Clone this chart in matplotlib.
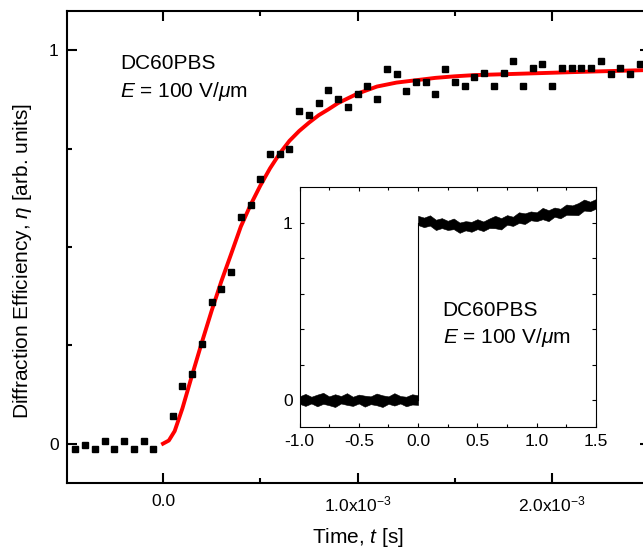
import numpy as np
import matplotlib.pyplot as plt
from matplotlib.ticker import FixedLocator, MultipleLocator

plt.rcParams['font.family'] = ['Liberation Sans', 'DejaVu Sans']
plt.rcParams['mathtext.fontset'] = 'custom'
plt.rcParams['mathtext.rm'] = 'Liberation Sans'
plt.rcParams['mathtext.it'] = 'Liberation Sans:italic'
plt.rcParams['mathtext.bf'] = 'Liberation Sans:bold'
plt.rcParams['axes.unicode_minus'] = False

# measured diffraction efficiency (time in ms)
t_ms = [-0.45, -0.40, -0.35, -0.30, -0.25, -0.20, -0.15, -0.10, -0.05,
        0.05, 0.10, 0.15, 0.20, 0.25, 0.30, 0.35, 0.40, 0.45, 0.50,
        0.55, 0.60, 0.65, 0.70, 0.75, 0.80, 0.85, 0.90, 0.95, 1.00,
        1.05, 1.10, 1.15, 1.20, 1.25, 1.30, 1.35, 1.40, 1.45, 1.50,
        1.55, 1.60, 1.65, 1.70, 1.75, 1.80, 1.85, 1.90, 1.95, 2.00,
        2.05, 2.10, 2.15, 2.20, 2.25, 2.30, 2.35, 2.40, 2.45]
eta = [-0.013, -0.003, -0.014, 0.007, -0.014, 0.007, -0.014, 0.007, -0.014,
       0.070, 0.146, 0.178, 0.254, 0.361, 0.394, 0.436, 0.576, 0.608, 0.674,
       0.737, 0.737, 0.748, 0.846, 0.835, 0.866, 0.898, 0.877, 0.856, 0.890,
       0.910, 0.877, 0.953, 0.941, 0.897, 0.919, 0.919, 0.889, 0.953, 0.920,
       0.910, 0.932, 0.942, 0.910, 0.942, 0.974, 0.910, 0.954, 0.964, 0.910,
       0.954, 0.954, 0.954, 0.954, 0.974, 0.941, 0.954, 0.941, 0.964]

# fitted curve
fit_t_ms = [0.00, 0.03, 0.06, 0.10, 0.15, 0.20, 0.25, 0.30, 0.35, 0.40,
            0.45, 0.50, 0.55, 0.60, 0.65, 0.70, 0.75, 0.80, 0.85, 0.90,
            1.00, 1.10, 1.20, 1.30, 1.40, 1.50, 1.60, 1.80, 2.00, 2.20, 2.50]
fit_eta = [0.000, 0.008, 0.032, 0.090, 0.175, 0.258, 0.338, 0.413, 0.482, 0.552,
           0.607, 0.656, 0.700, 0.738, 0.770, 0.795, 0.816, 0.835, 0.850, 0.866,
           0.890, 0.908, 0.918, 0.924, 0.930, 0.934, 0.937, 0.940, 0.943, 0.946, 0.950]

# inset trace (time in s), drawn as noise envelope
pre_t = [-1.00, -0.95, -0.90, -0.85, -0.80, -0.75, -0.70, -0.65, -0.60, -0.55, -0.50,
         -0.45, -0.40, -0.35, -0.30, -0.25, -0.20, -0.15, -0.10, -0.05, 0.00]
pre_upper = [0.020, 0.034, 0.018, 0.030, 0.040, 0.020, 0.032, 0.022, 0.038, 0.018, 0.030,
             0.024, 0.020, 0.036, 0.026, 0.020, 0.038, 0.022, 0.018, 0.032, 0.026]
pre_lower = [-0.022, -0.034, -0.020, -0.036, -0.022, -0.030, -0.040, -0.020, -0.028, -0.034, -0.020,
             -0.038, -0.024, -0.030, -0.040, -0.022, -0.032, -0.020, -0.036, -0.026, -0.028]
post_t = [0.00, 0.05, 0.10, 0.15, 0.20, 0.25, 0.30, 0.35, 0.40, 0.45, 0.50,
          0.55, 0.60, 0.65, 0.70, 0.75, 0.80, 0.85, 0.90, 0.95, 1.00,
          1.05, 1.10, 1.15, 1.20, 1.25, 1.30, 1.35, 1.40, 1.45, 1.50]
post_upper = [1.040, 1.030, 1.043, 1.018, 1.027, 1.012, 1.025, 1.002, 1.010, 1.006, 1.021,
              1.008, 1.025, 1.040, 1.027, 1.044, 1.035, 1.060, 1.054, 1.065, 1.060,
              1.085, 1.072, 1.087, 1.080, 1.104, 1.099, 1.112, 1.132, 1.120, 1.135]
post_lower = [0.988, 0.976, 0.985, 0.960, 0.971, 0.960, 0.965, 0.944, 0.958, 0.950, 0.965,
              0.954, 0.971, 0.970, 0.963, 0.990, 0.983, 1.000, 0.994, 1.015, 1.010,
              1.021, 1.010, 1.035, 1.026, 1.046, 1.045, 1.044, 1.070, 1.066, 1.081]
step_t = [0.0, 0.0]
step_y = [0.0, 1.0]

x_major = [0.0, 1.0e-3, 2.0e-3]
x_labels = ['0.0', '1.0x10$^{-3}$', '2.0x10$^{-3}$']
inset_x_ticks = [-1.0, -0.5, 0.0, 0.5, 1.0, 1.5]
inset_x_labels = ['-1.0', '-0.5', '0.0', '0.5', '1.0', '1.5']

W, H = 643, 549
fig = plt.figure(figsize=(W / 100, H / 100), dpi=100)

# main axes (extends slightly past the right edge, as in the original crop)
ax = fig.add_axes([67 / W, 66 / H, 582.5 / W, 472 / H])
ax.plot(np.array(fit_t_ms) * 1e-3, fit_eta, color='red', lw=2.8, zorder=2)
ax.plot(np.array(t_ms) * 1e-3, eta, 's', color='black', ms=4, zorder=3)
ax.set_xlim(-0.4933e-3, 2.5e-3)
ax.set_ylim(-0.1, 1.1)
ax.set_xticks(x_major)
ax.set_xticklabels(x_labels)
ax.xaxis.set_minor_locator(FixedLocator([-0.5e-3, 0.5e-3, 1.5e-3, 2.5e-3]))
ax.set_yticks([0, 1])
ax.set_yticklabels(['0', '1'])
ax.yaxis.set_minor_locator(FixedLocator([0.25, 0.5, 0.75]))
ax.tick_params(which='both', direction='in', top=True, right=True, width=1.5, labelsize=12.5)
ax.tick_params(which='major', length=7.5)
ax.tick_params(which='minor', length=3.8)
ax.tick_params(axis='x', pad=8)
ax.tick_params(axis='y', pad=6)
for s in ax.spines.values():
    s.set_linewidth(1.5)
ax.set_xlabel('Time, $t$ [s]', fontsize=15)
ax.set_ylabel('Diffraction Efficiency, $\\eta$ [arb. units]', fontsize=15)
ax.xaxis.set_label_coords(0.5, -0.091)
ax.yaxis.set_label_coords(-0.0575, 0.47)

fig.text(120 / W, 1 - 69 / H, 'DC60PBS', fontsize=15, va='baseline')
fig.text(120 / W, 1 - 97 / H, '$E$ = 100 V/$\\mu$m', fontsize=15, va='baseline')

# inset
ins = fig.add_axes([299.5 / W, 122 / H, 296.5 / W, 240 / H])
ins.fill_between(pre_t, pre_lower, pre_upper, color='black', lw=0.4)
ins.fill_between(post_t, post_lower, post_upper, color='black', lw=0.4)
ins.plot(step_t, step_y, color='black', lw=0.8)
ins.set_xlim(-1.0, 1.5)
ins.set_ylim(-0.153, 1.203)
ins.set_xticks(inset_x_ticks)
ins.set_xticklabels(inset_x_labels)
ins.xaxis.set_minor_locator(MultipleLocator(0.25))
ins.set_yticks([0, 0.2, 0.4, 0.6, 0.8, 1.0])
ins.set_yticklabels(['0', '', '', '', '', '1'])
ins.tick_params(which='both', direction='in', top=True, right=True, width=0.8, labelsize=12.5, pad=5)
ins.tick_params(which='major', length=3)
ins.tick_params(which='minor', length=2.5)
for s in ins.spines.values():
    s.set_linewidth(0.8)

fig.text(442.7 / W, 1 - 315.7 / H, 'DC60PBS', fontsize=15, va='baseline')
fig.text(442.7 / W, 1 - 343.3 / H, '$E$ = 100 V/$\\mu$m', fontsize=15, va='baseline')

fig.savefig('out.png', dpi=100)
